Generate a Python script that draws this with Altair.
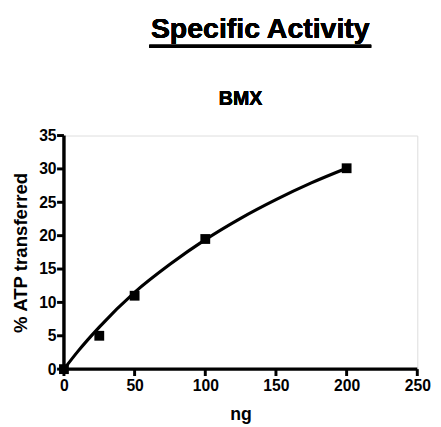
import altair as alt
import pandas as pd

# measured points
ng = [0, 25, 50, 100, 200]
atp = [0, 5.0, 11.0, 19.5, 30.1]

# fitted curve
curve_x = [0, 10, 25, 50, 75, 100, 125, 150, 175, 200]
curve_y = [0, 2.7, 6.3, 11.5, 15.7, 19.4, 22.6, 25.4, 27.9, 30.1]

x_ticks = [0, 50, 100, 150, 200, 250]
y_ticks = [0, 5, 10, 15, 20, 25, 30, 35]

pts = pd.DataFrame({"ng": ng, "atp": atp})
cur = pd.DataFrame({"ng": curve_x, "atp": curve_y})
xt = pd.DataFrame({"ng": x_ticks})
yt = pd.DataFrame({"atp": y_ticks})
xdom = pd.DataFrame({"ng": [x_ticks[0]], "ng2": [x_ticks[-1]], "atp": [0]})
ydom = pd.DataFrame({"ng": [0], "atp": [y_ticks[0]], "atp2": [y_ticks[-1]]})

FONT = "Liberation Sans"

xs = alt.Scale(domain=[0, 250], nice=False)
ys = alt.Scale(domain=[0, 35], nice=False)

common = dict(grid=False, domain=False, ticks=False,
              labelFont=FONT, labelFontSize=16, labelFontWeight="bold", labelColor="black",
              labelOverlap=False, labelFlush=False,
              titleFont=FONT, titleFontWeight="bold", titleColor="black")

xaxis = alt.Axis(values=x_ticks, title="ng", labelPadding=9,
                 titleFontSize=18, titleX=180, titleY=51, titleBaseline="alphabetic", **common)
yaxis = alt.Axis(values=y_ticks, title="% ATP transferred", labelPadding=8,
                 titleFontSize=19, titleX=-38, titleY=119, titleAngle=-90, titleAlign="center",
                 titleBaseline="alphabetic", **common)

line = alt.Chart(cur).mark_line(color="black", strokeWidth=3.2, interpolate="monotone", clip=False).encode(
    x=alt.X("ng:Q", scale=xs, axis=xaxis),
    y=alt.Y("atp:Q", scale=ys, axis=yaxis),
)
points = alt.Chart(pts).mark_point(shape="square", filled=True, color="black", size=100, opacity=1, clip=False).encode(
    x=alt.X("ng:Q", scale=xs, axis=xaxis),
    y=alt.Y("atp:Q", scale=ys, axis=yaxis),
)
xline = alt.Chart(xdom).mark_rule(color="black", strokeWidth=3.5).encode(
    x=alt.X("ng:Q", scale=xs, axis=xaxis), x2="ng2:Q", y=alt.Y("atp:Q", scale=ys, axis=yaxis))
yline = alt.Chart(ydom).mark_rule(color="black", strokeWidth=3.5).encode(
    x=alt.X("ng:Q", scale=xs, axis=xaxis), y=alt.Y("atp:Q", scale=ys, axis=yaxis), y2="atp2:Q")
xtick = alt.Chart(xt).mark_rule(color="black", strokeWidth=3).encode(
    x=alt.X("ng:Q", scale=xs, axis=xaxis), y=alt.value(238), y2=alt.value(245))
ytick = alt.Chart(yt).mark_rule(color="black", strokeWidth=3).encode(
    y=alt.Y("atp:Q", scale=ys, axis=yaxis), x=alt.value(0), x2=alt.value(-7))

title = alt.Chart(pts).mark_text(text="Specific Activity", font=FONT, fontSize=29, fontWeight="bold",
                                 color="black", align="center", baseline="alphabetic").encode(
    x=alt.value(200), y=alt.value(-99))
underline = alt.Chart(pts).mark_rule(color="black", strokeWidth=3).encode(
    x=alt.value(87), x2=alt.value(313), y=alt.value(-91))
sub = alt.Chart(pts).mark_text(text="BMX", font=FONT, fontSize=20, fontWeight="bold",
                               color="black", align="center", baseline="alphabetic").encode(
    x=alt.value(180), y=alt.value(-31))

chart = alt.layer(line, xline, yline, xtick, ytick, points, title, underline, sub).properties(
    width=360, height=238,
    autosize=alt.AutoSizeParams(type="none"),
    padding={"left": 57, "top": 126, "right": 16, "bottom": 55},
).configure_view(stroke=None).configure(background="white").configure_axis(
    labelOverlap=False, domain=False, ticks=False, grid=False
)

chart.save("out.html", embed_options={"renderer": "svg", "actions": False})
